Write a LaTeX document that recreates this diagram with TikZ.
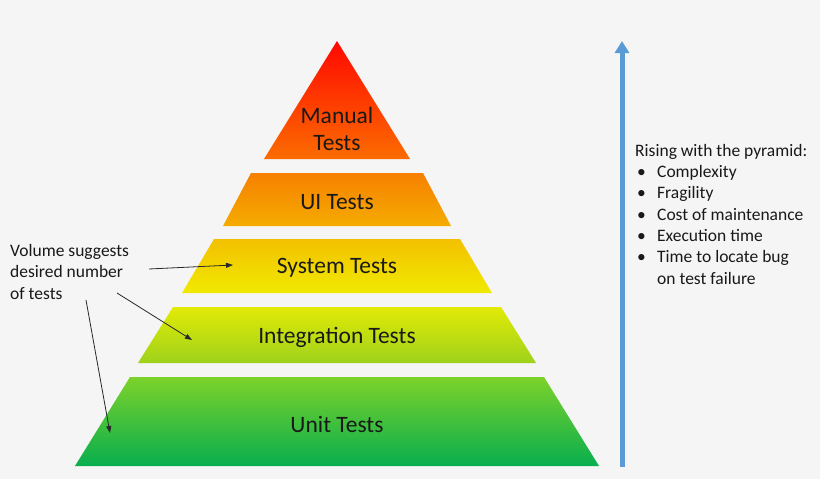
\documentclass[tikz,border=0pt]{standalone}
\usepackage{fontspec}
\setmainfont{Carlito}
\usetikzlibrary{arrows.meta}

% tier colours (top and bottom of each band)
\definecolor{bgc}{RGB}{245,245,245}
\definecolor{manTop}{RGB}{255,8,0}
\definecolor{manBot}{RGB}{252,108,0}
\definecolor{uiTop}{RGB}{246,128,0}
\definecolor{uiBot}{RGB}{245,172,0}
\definecolor{sysTop}{RGB}{243,192,0}
\definecolor{sysBot}{RGB}{240,234,0}
\definecolor{intTop}{RGB}{226,234,6}
\definecolor{intBot}{RGB}{158,210,28}
\definecolor{unitTop}{RGB}{124,210,42}
\definecolor{unitBot}{RGB}{8,174,78}
\definecolor{riseBlue}{RGB}{91,155,213}
\definecolor{noteInk}{RGB}{40,40,40}

\tikzset{
  tierlabel/.style={font=\fontsize{23.5}{27}\selectfont, text=black!90, inner sep=0pt, anchor=base, align=center},
  notetext/.style={font=\fontsize{17.5}{21.3}\selectfont, text=black!90, inner sep=0pt, anchor=base west, align=left},
  pointer/.style={draw=noteInk, line width=0.8pt, -{Triangle[length=7pt,width=5pt]}},
  riser/.style={draw=riseBlue, line width=5pt, -{Triangle[length=12pt,width=14pt]}},
}

\newcommand{\tierband}[6]{% top y, top half width, bottom y, bottom half width, top colour, bottom colour
  \shade[top color=#5, bottom color=#6]
    (337-#2,#1) -- (337+#2,#1) -- (337+#4,#3) -- (337-#4,#3) -- cycle;}

\begin{document}
\begin{tikzpicture}[x=1pt,y=-1pt]
  % page background
  \fill[bgc] (0,0) rectangle (820,479);
  \useasboundingbox (0,0) rectangle (820,479);

  % pyramid bands
  \shade[top color=manTop, bottom color=manBot] (337,41) -- (410,159) -- (264,159) -- cycle;
  \tierband{173}{86}{226}{114}{uiTop}{uiBot}
  \tierband{239}{123}{293}{155}{sysTop}{sysBot}
  \tierband{307}{164}{363}{199}{intTop}{intBot}
  \tierband{377}{207}{466}{262}{unitTop}{unitBot}

  % band labels (multi-line nodes sit on their last baseline)
  \node[tierlabel] (manual) at (337,150) {Manual\\Tests};
  \node[tierlabel] (ui) at (337,209) {UI Tests};
  \node[tierlabel] (system) at (337,273) {System Tests};
  \node[tierlabel] (integration) at (337,343) {Integration Tests};
  \node[tierlabel] (unit) at (337,432) {Unit Tests};

  % note on the left with its pointers
  \node[notetext] (volume) at (10,299) {Volume suggests\\desired number\\of tests};
  \coordinate (vA) at (149,269);
  \coordinate (vB) at (117,293);
  \coordinate (vC) at (86,300);
  \coordinate (sysPt) at (233,265);
  \coordinate (intPt) at (192,340);
  \coordinate (unitPt) at (110,433);
  \draw[pointer] (vA) -- (sysPt);
  \draw[pointer] (vB) -- (intPt);
  \draw[pointer] (vC) -- (unitPt);

  % rising arrow and its list
  \coordinate (riseBase) at (622,467);
  \coordinate (riseTip) at (622,41);
  \draw[riser] (riseBase) -- (riseTip);
  \node[notetext] (rising) at (635,284) {Rising with the pyramid:\\
    \makebox[22pt][l]{\hspace{2pt}•}Complexity\\
    \makebox[22pt][l]{\hspace{2pt}•}Fragility\\
    \makebox[22pt][l]{\hspace{2pt}•}Cost of maintenance\\
    \makebox[22pt][l]{\hspace{2pt}•}Execution time\\
    \makebox[22pt][l]{\hspace{2pt}•}Time to locate bug\\
    \hspace*{22pt}on test failure};
\end{tikzpicture}
\end{document}
